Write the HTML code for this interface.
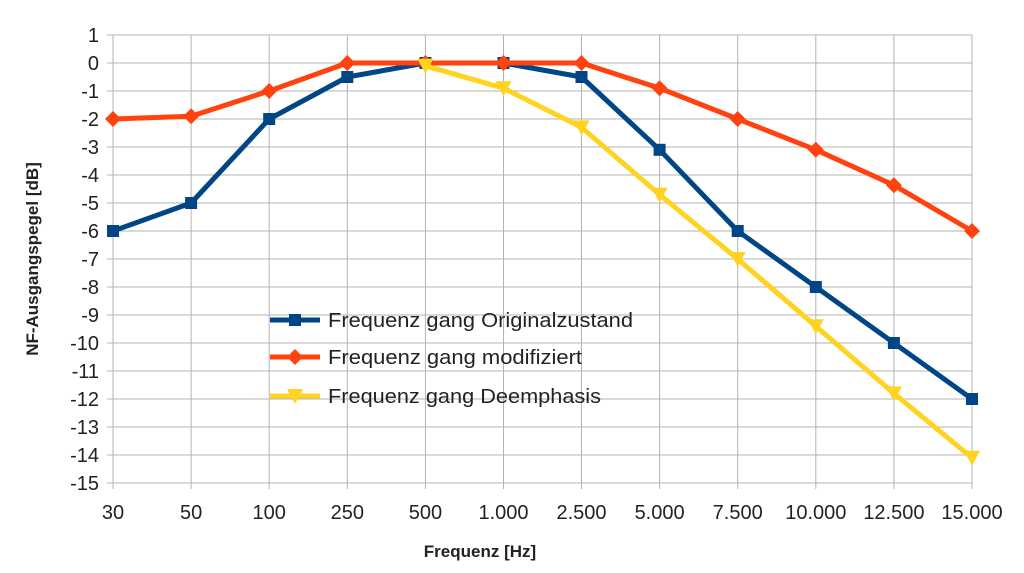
<!DOCTYPE html><html><head><style>body{margin:0;background:#fff}</style></head><body>
<svg width="1024" height="568" xmlns="http://www.w3.org/2000/svg" xmlns:xlink="http://www.w3.org/1999/xlink" font-family="Liberation Sans, sans-serif">
<defs>
<rect id="sq" x="-6" y="-6" width="12" height="12" fill="#004586"/>
<polygon id="di" points="0,-8 8,0 0,8 -8,0" fill="#ff420e"/>
<polygon id="tr" points="-8,-7 8,-7 0,8" fill="#ffd320"/>
</defs>
<g stroke="#b3b3b3" stroke-width="1">
<line x1="107" x2="972" y1="35" y2="35"/><line x1="107" x2="972" y1="63" y2="63"/><line x1="107" x2="972" y1="91" y2="91"/><line x1="107" x2="972" y1="119" y2="119"/><line x1="107" x2="972" y1="147" y2="147"/><line x1="107" x2="972" y1="175" y2="175"/><line x1="107" x2="972" y1="203" y2="203"/><line x1="107" x2="972" y1="231" y2="231"/><line x1="107" x2="972" y1="259" y2="259"/><line x1="107" x2="972" y1="287" y2="287"/><line x1="107" x2="972" y1="315" y2="315"/><line x1="107" x2="972" y1="343" y2="343"/><line x1="107" x2="972" y1="371" y2="371"/><line x1="107" x2="972" y1="399" y2="399"/><line x1="107" x2="972" y1="427" y2="427"/><line x1="107" x2="972" y1="455" y2="455"/><line x1="107" x2="972" y1="483" y2="483"/>
<line x1="113" x2="113" y1="35" y2="489"/><line x1="191.1" x2="191.1" y1="35" y2="489"/><line x1="269.2" x2="269.2" y1="35" y2="489"/><line x1="347.3" x2="347.3" y1="35" y2="489"/><line x1="425.4" x2="425.4" y1="35" y2="489"/><line x1="503.5" x2="503.5" y1="35" y2="489"/><line x1="581.5" x2="581.5" y1="35" y2="489"/><line x1="659.6" x2="659.6" y1="35" y2="489"/><line x1="737.7" x2="737.7" y1="35" y2="489"/><line x1="815.8" x2="815.8" y1="35" y2="489"/><line x1="893.9" x2="893.9" y1="35" y2="489"/><line x1="972" x2="972" y1="35" y2="489"/>
</g>
<g font-size="20" fill="#222" text-anchor="end">
<text x="99" y="42">1</text><text x="99" y="70">0</text><text x="99" y="98">-1</text><text x="99" y="126">-2</text><text x="99" y="154">-3</text><text x="99" y="182">-4</text><text x="99" y="210">-5</text><text x="99" y="238">-6</text><text x="99" y="266">-7</text><text x="99" y="294">-8</text><text x="99" y="322">-9</text><text x="99" y="350">-10</text><text x="99" y="378">-11</text><text x="99" y="406">-12</text><text x="99" y="434">-13</text><text x="99" y="462">-14</text><text x="99" y="490">-15</text>
</g>
<g font-size="20" fill="#222" text-anchor="middle">
<text x="113" y="519">30</text><text x="191.1" y="519">50</text><text x="269.2" y="519">100</text><text x="347.3" y="519">250</text><text x="425.4" y="519">500</text><text x="503.5" y="519">1.000</text><text x="581.5" y="519">2.500</text><text x="659.6" y="519">5.000</text><text x="737.7" y="519">7.500</text><text x="815.8" y="519">10.000</text><text x="893.9" y="519">12.500</text><text x="972" y="519">15.000</text>
</g>
<polyline fill="none" stroke="#004586" stroke-width="5" stroke-linejoin="round" points="113,231 191.1,203 269.2,119 347.3,77 425.4,63 503.5,63 581.5,77 659.6,149.8 737.7,231 815.8,287 893.9,343 972,399"/>
<g><use xlink:href="#sq" x="113" y="231"/><use xlink:href="#sq" x="191.1" y="203"/><use xlink:href="#sq" x="269.2" y="119"/><use xlink:href="#sq" x="347.3" y="77"/><use xlink:href="#sq" x="425.4" y="63"/><use xlink:href="#sq" x="503.5" y="63"/><use xlink:href="#sq" x="581.5" y="77"/><use xlink:href="#sq" x="659.6" y="149.8"/><use xlink:href="#sq" x="737.7" y="231"/><use xlink:href="#sq" x="815.8" y="287"/><use xlink:href="#sq" x="893.9" y="343"/><use xlink:href="#sq" x="972" y="399"/></g>
<polyline fill="none" stroke="#ff420e" stroke-width="5" stroke-linejoin="round" points="113,119 191.1,116.2 269.2,91 347.3,63 425.4,63 503.5,63 581.5,63 659.6,88.2 737.7,119 815.8,149.8 893.9,185.2 972,231"/>
<g><use xlink:href="#di" x="113" y="119"/><use xlink:href="#di" x="191.1" y="116.2"/><use xlink:href="#di" x="269.2" y="91"/><use xlink:href="#di" x="347.3" y="63"/><use xlink:href="#di" x="425.4" y="63"/><use xlink:href="#di" x="503.5" y="63"/><use xlink:href="#di" x="581.5" y="63"/><use xlink:href="#di" x="659.6" y="88.2"/><use xlink:href="#di" x="737.7" y="119"/><use xlink:href="#di" x="815.8" y="149.8"/><use xlink:href="#di" x="893.9" y="185.2"/><use xlink:href="#di" x="972" y="231"/></g>
<polyline fill="none" stroke="#ffd320" stroke-width="5" stroke-linejoin="round" points="425.4,65.8 503.5,88.2 581.5,127.4 659.6,194.6 737.7,259 815.8,326.2 893.9,393.4 972,457.8"/>
<g><use xlink:href="#tr" x="425.4" y="65.8"/><use xlink:href="#tr" x="503.5" y="88.2"/><use xlink:href="#tr" x="581.5" y="127.4"/><use xlink:href="#tr" x="659.6" y="194.6"/><use xlink:href="#tr" x="737.7" y="259"/><use xlink:href="#tr" x="815.8" y="326.2"/><use xlink:href="#tr" x="893.9" y="393.4"/><use xlink:href="#tr" x="972" y="457.8"/></g>
<line x1="270" x2="320" y1="320" y2="320" stroke="#004586" stroke-width="5"/><use xlink:href="#sq" x="295" y="320"/>
<text x="328" y="327" font-size="20" fill="#222" textLength="305" lengthAdjust="spacingAndGlyphs">Frequenz gang Originalzustand</text>
<line x1="270" x2="320" y1="357" y2="357" stroke="#ff420e" stroke-width="5"/><use xlink:href="#di" x="295" y="357"/>
<text x="328" y="364" font-size="20" fill="#222" textLength="254" lengthAdjust="spacingAndGlyphs">Frequenz gang modifiziert</text>
<line x1="270" x2="320" y1="396" y2="396" stroke="#ffd320" stroke-width="5"/><use xlink:href="#tr" x="295" y="396"/>
<text x="328" y="403" font-size="20" fill="#222" textLength="273" lengthAdjust="spacingAndGlyphs">Frequenz gang Deemphasis</text>
<text x="480" y="557" font-size="17" font-weight="bold" text-anchor="middle" fill="#222">Frequenz [Hz]</text>
<text transform="translate(38,259) rotate(-90)" font-size="17" font-weight="bold" text-anchor="middle" fill="#222">NF-Ausgangspegel [dB]</text>
</svg></body></html>
